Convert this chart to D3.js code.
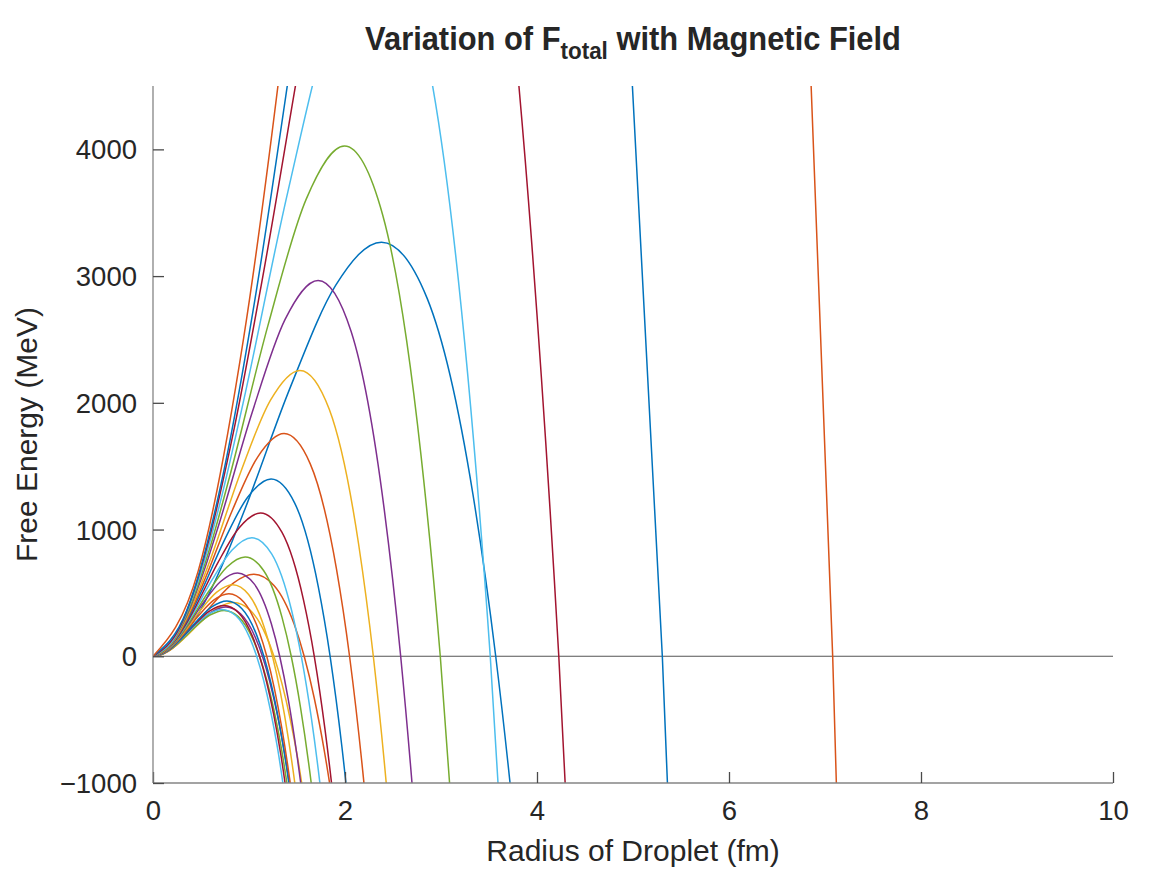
<!DOCTYPE html>
<html>
<head>
<meta charset="utf-8">
<script src="https://cdn.jsdelivr.net/npm/d3@7"></script>
<style>
  body { margin: 0; background: #ffffff; }
  text { font-family: "Liberation Sans", Arial, Helvetica, sans-serif; fill: #262626; }
</style>
</head>
<body>
<svg id="chart" width="1161" height="872"></svg>
<script>
// MATLAB default colour order, cycled over the curves in plotting order
const colorCycle = ["#0072BD", "#D95319", "#EDB120", "#7E2F8E", "#77AC30", "#4DBEEE", "#A2142F"];

// Radius (fm) samples for each curve (one row per magnetic-field value)
const radii = [
  [0, .238, .476, .714, .952, 1.428, 1.904, 2.38, 2.856, 3.332, 3.57, 3.808, 4.046, 4.284, 4.76],
  [0, .105, .21, .315, .42, .63, .84, 1.05, 1.26, 1.47, 1.575, 1.68, 1.785, 1.89, 2.1],
  [0, .084, .168, .252, .336, .504, .672, .84, 1.008, 1.176, 1.26, 1.344, 1.428, 1.512, 1.68],
  [0, .076, .152, .228, .304, .456, .608, .76, .912, 1.064, 1.14, 1.216, 1.292, 1.368, 1.52],
  [0, .074, .148, .222, .296, .444, .592, .74, .888, 1.036, 1.11, 1.184, 1.258, 1.332, 1.48],
  [0, .072, .144, .216, .288, .432, .576, .72, .864, 1.008, 1.08, 1.152, 1.224, 1.296, 1.44],
  [0, .074, .148, .222, .296, .444, .592, .74, .888, 1.036, 1.11, 1.184, 1.258, 1.332, 1.48],
  [0, .077, .154, .231, .308, .462, .616, .77, .924, 1.078, 1.155, 1.232, 1.309, 1.386, 1.54],
  [0, .079, .158, .237, .316, .474, .632, .79, .948, 1.106, 1.185, 1.264, 1.343, 1.422, 1.58],
  [0, .083, .166, .249, .332, .498, .664, .83, .996, 1.162, 1.245, 1.328, 1.411, 1.494, 1.66],
  [0, .088, .176, .264, .352, .528, .704, .88, 1.056, 1.232, 1.32, 1.408, 1.496, 1.584, 1.76],
  [0, .096, .192, .288, .384, .576, .768, .96, 1.152, 1.344, 1.44, 1.536, 1.632, 1.728, 1.92],
  [0, .103, .206, .309, .412, .618, .824, 1.03, 1.236, 1.442, 1.545, 1.648, 1.751, 1.854, 2.06],
  [0, .112, .224, .336, .448, .672, .896, 1.12, 1.344, 1.568, 1.68, 1.792, 1.904, 2.016, 2.24],
  [0, .123, .246, .369, .492, .738, .984, 1.23, 1.476, 1.722, 1.845, 1.968, 2.091, 2.214, 2.46],
  [0, .1365, .273, .4095, .546, .819, 1.092, 1.365, 1.638, 1.911, 2.0475, 2.184, 2.3205, 2.457, 2.73],
  [0, .153, .306, .459, .612, .918, 1.224, 1.53, 1.836, 2.142, 2.295, 2.448, 2.601, 2.754, 3.06],
  [0, .172, .344, .516, .688, 1.032, 1.376, 1.72, 2.064, 2.408, 2.58, 2.752, 2.924, 3.096, 3.44],
  [0, .1995, .399, .5985, .798, 1.197, 1.596, 1.995, 2.394, 2.793, 2.9925, 3.192, 3.3915, 3.591, 3.99],
  [0, .2342, .4684, .7026, .9368, 1.4052, 1.8736, 2.342, 2.8104, 3.2788, 3.513, 3.7472, 3.9814, 4.2156, 4.684],
  [0, .2818, .5636, .8454, 1.1272, 1.6908, 2.2544, 2.818, 3.3816, 3.9452, 4.227, 4.5088, 4.7906, 5.0724, 5.636],
  [0, .3537, .7074, 1.0611, 1.4148, 2.1222, 2.8296, 3.537, 4.2444, 4.9518, 5.3055, 5.6592, 6.0129, 6.3666, 7.074],
  [0, .472, .944, 1.416, 1.888, 2.832, 3.776, 4.72, 5.664, 6.608, 7.08, 7.552, 8.024, 8.496, 9.44]
];

// Free energy (MeV) read at those radii
const energies = [
  [0, 92, 340, 706, 1150, 2118, 2928, 3268, 2824, 1281, 0, -1673, -3778, -6353, -13072],
  [0, 18, 67, 140, 228, 419, 580, 647, 559, 254, 0, -331, -748, -1258, -2588],
  [0, 12, 44, 92, 150, 275, 381, 425, 367, 167, 0, -218, -491, -826, -1700],
  [0, 11, 40, 84, 137, 251, 348, 388, 335, 152, 0, -199, -449, -754, -1552],
  [0, 10, 38, 78, 127, 235, 324, 362, 313, 142, 0, -185, -418, -704, -1448],
  [0, 10, 38, 80, 130, 240, 332, 370, 320, 145, 0, -189, -428, -719, -1480],
  [0, 11, 42, 86, 141, 259, 358, 400, 346, 157, 0, -205, -462, -778, -1600],
  [0, 12, 45, 94, 153, 283, 391, 436, 377, 171, 0, -223, -504, -848, -1744],
  [0, 14, 51, 107, 174, 320, 443, 494, 427, 194, 0, -253, -571, -960, -1976],
  [0, 16, 59, 122, 199, 366, 506, 565, 488, 221, 0, -289, -653, -1098, -2260],
  [0, 18, 68, 142, 232, 426, 590, 658, 569, 258, 0, -337, -761, -1279, -2632],
  [0, 22, 81, 169, 276, 507, 702, 783, 677, 307, 0, -401, -905, -1522, -3132],
  [0, 26, 97, 202, 329, 606, 838, 935, 808, 367, 0, -479, -1081, -1818, -3740],
  [0, 32, 118, 244, 398, 733, 1013, 1131, 977, 443, 0, -579, -1307, -2199, -4524],
  [0, 39, 145, 302, 492, 907, 1253, 1399, 1209, 548, 0, -716, -1617, -2720, -5596],
  [0, 49, 183, 380, 618, 1139, 1574, 1757, 1518, 689, 0, -900, -2031, -3416, -7028],
  [0, 63, 235, 487, 794, 1462, 2021, 2256, 1949, 884, 0, -1155, -2608, -4386, -9024],
  [0, 83, 308, 641, 1044, 1922, 2658, 2966, 2563, 1163, 0, -1519, -3429, -5766, -11864],
  [0, 113, 419, 870, 1417, 2609, 3607, 4026, 3478, 1578, 0, -2061, -4654, -7827, -16104],
  [0, 158, 589, 1222, 1992, 3667, 5070, 5659, 4889, 2218, 0, -2897, -6542, -11001, -22636],
  [0, 233, 865, 1796, 2927, 5389, 7451, 8316, 7185, 3260, 0, -4258, -9613, -16166, -33264],
  [0, 365, 1354, 2813, 4584, 8440, 11670, 13024, 11253, 5105, 0, -6668, -15056, -25319, -52096],
  [0, 676, 2511, 5215, 8499, 15645, 21633, 24144, 20860, 9464, 0, -12362, -27911, -46936, -96576]
];

const xTicks = [0, 2, 4, 6, 8, 10];
const yTicks = [-1000, 0, 1000, 2000, 3000, 4000];
const xDomain = [0, 10];
const yDomain = [-1000, 4500];

const titleMain = "Variation of F";
const titleSub = "total";
const titleRest = " with Magnetic Field";
const xLabel = "Radius of Droplet (fm)";
const yLabel = "Free Energy (MeV)";

// ---------------------------------------------------------------
const svg = d3.select("#chart");
const plot = { left: 153, right: 1113, top: 86, bottom: 783 };

const x = d3.scaleLinear().domain(xDomain).range([plot.left, plot.right]);
const y = d3.scaleLinear().domain(yDomain).range([plot.bottom, plot.top]);

svg.append("rect").attr("width", 1161).attr("height", 872).attr("fill", "#ffffff");

svg.append("defs").append("clipPath").attr("id", "plotClip")
  .append("rect")
  .attr("x", plot.left).attr("y", plot.top)
  .attr("width", plot.right - plot.left).attr("height", plot.bottom - plot.top);

// zero reference line
svg.append("line")
  .attr("x1", x(0)).attr("x2", x(10))
  .attr("y1", y(0)).attr("y2", y(0))
  .attr("stroke", "#555555").attr("stroke-width", 1.1);

// curves
const line = d3.line()
  .x(d => x(d[0]))
  .y(d => y(d[1]))
  .curve(d3.curveMonotoneX);

const gCurves = svg.append("g").attr("clip-path", "url(#plotClip)");
radii.forEach((rs, i) => {
  const pts = rs.map((r, j) => [r, energies[i][j]]);
  gCurves.append("path")
    .attr("d", line(pts))
    .attr("fill", "none")
    .attr("stroke", colorCycle[i % colorCycle.length])
    .attr("stroke-width", 1.5);
});

// axes (MATLAB style: box off, ticks pointing inward)
const xAxis = d3.axisBottom(x).tickValues(xTicks).tickSizeInner(-11).tickSizeOuter(0).tickPadding(0).tickFormat(d3.format("d"));
const yAxis = d3.axisLeft(y).tickValues(yTicks).tickSizeInner(-11).tickSizeOuter(0).tickPadding(0)
  .tickFormat(d => d < 0 ? "\u2212" + Math.abs(d) : String(d));

const gx = svg.append("g").attr("transform", `translate(0,${plot.bottom})`).call(xAxis);
const gy = svg.append("g").attr("transform", `translate(${plot.left},0)`).call(yAxis);

[gx, gy].forEach(g => {
  g.select(".domain").attr("stroke", "#858585").attr("stroke-width", 1.3);
  g.selectAll(".tick line").attr("stroke", "#4a4a4a").attr("stroke-width", 1.3);
  g.selectAll(".tick text")
    .attr("font-family", "'Liberation Sans', Arial, sans-serif")
    .attr("font-size", 27.5).attr("fill", "#262626");
});
gy.select(".domain").attr("d", `M0,${plot.bottom}V${plot.top}`);
gx.select(".domain").attr("d", `M${plot.left},0H${plot.right}`);

gx.selectAll(".tick text").attr("y", 37).attr("dy", null);
gy.selectAll(".tick text").attr("x", -16).attr("dy", "0.35em");

// axis labels
svg.append("text")
  .attr("x", (plot.left + plot.right) / 2).attr("y", 861)
  .attr("text-anchor", "middle").attr("font-size", 30)
  .text(xLabel);

svg.append("text")
  .attr("transform", `translate(37,${(plot.top + plot.bottom) / 2}) rotate(-90)`)
  .attr("text-anchor", "middle").attr("font-size", 30)
  .text(yLabel);

// title with subscript
const title = svg.append("text")
  .attr("transform", "translate(633,50) scale(0.935,1)")
  .attr("text-anchor", "middle")
  .attr("font-weight", "bold").attr("font-size", 33).attr("fill", "#000000");
title.append("tspan").text(titleMain);
title.append("tspan").attr("font-size", 24).attr("dy", 9).text(titleSub);
title.append("tspan").attr("dy", -9).text(titleRest);
</script>
</body>
</html>
